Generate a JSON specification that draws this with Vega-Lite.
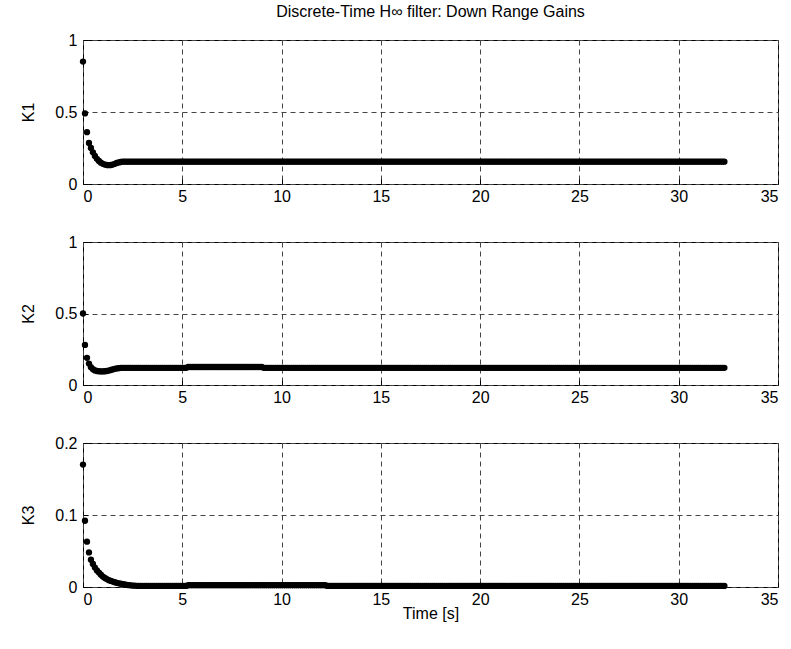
{
  "$schema": "https://vega.github.io/schema/vega-lite/v6.json",
  "padding": {"left": 20, "top": 3, "right": 5, "bottom": 5},
  "background": "white",
  "bounds": "flush",
  "spacing": 58,
  "config": {
    "view": {"stroke": "black", "strokeWidth": 1},
    "font": "Liberation Sans",
    "axis": {
      "labelFont": "Liberation Sans", "labelFontSize": 16, "labelColor": "black",
      "titleFont": "Liberation Sans", "titleFontSize": 16, "titleFontWeight": "normal", "titleColor": "black",
      "grid": true, "gridColor": "#444444", "gridDash": [5, 4], "gridOpacity": 1, "gridWidth": 1,
      "domain": false, "ticks": true, "tickColor": "black", "tickSize": -5, "labelPadding": 11
    },
    "axisY": {"titlePadding": 18},
    "axisX": {"titlePadding": -2, "labelPadding": 9}
  },
  "datasets": {
    "d": [
      {"t":0.0,"a":0.85,"b":0.5,"c":0.17},
      {"t":0.1,"a":0.49,"b":0.28,"c":0.092},
      {"t":0.2,"a":0.36,"b":0.19,"c":0.063},
      {"t":0.3,"a":0.285,"b":0.15,"c":0.048},
      {"t":0.4,"a":0.25,"b":0.125,"c":0.038},
      {"t":0.5,"a":0.22,"b":0.11,"c":0.032},
      {"t":0.6,"a":0.195,"b":0.102,"c":0.027},
      {"t":0.7,"a":0.175,"b":0.098,"c":0.023},
      {"t":0.8,"a":0.16,"b":0.096,"c":0.02},
      {"t":0.9,"a":0.148,"b":0.095,"c":0.017},
      {"t":1.0,"a":0.14,"b":0.095,"c":0.0145},
      {"t":1.1,"a":0.135,"b":0.096,"c":0.0125},
      {"t":1.2,"a":0.132,"b":0.098,"c":0.011},
      {"t":1.3,"a":0.131,"b":0.101,"c":0.0095},
      {"t":1.4,"a":0.132,"b":0.105,"c":0.0085},
      {"t":1.5,"a":0.135,"b":0.109,"c":0.0075},
      {"t":1.6,"a":0.14,"b":0.113,"c":0.0066},
      {"t":1.7,"a":0.146,"b":0.116,"c":0.0058},
      {"t":1.8,"a":0.15,"b":0.118,"c":0.0051},
      {"t":1.9,"a":0.153,"b":0.12,"c":0.0045},
      {"t":2.0,"a":0.155,"b":0.12,"c":0.004},
      {"t":2.1,"a":0.155,"b":0.12,"c":0.0035},
      {"t":2.2,"a":0.155,"b":0.12,"c":0.003},
      {"t":2.3,"a":0.155,"b":0.12,"c":0.0026},
      {"t":2.4,"a":0.155,"b":0.12,"c":0.0023},
      {"t":2.5,"a":0.155,"b":0.12,"c":0.002},
      {"t":2.6,"a":0.155,"b":0.12,"c":0.0018},
      {"t":2.7,"a":0.155,"b":0.12,"c":0.0016},
      {"t":2.8,"a":0.155,"b":0.12,"c":0.0015},
      {"t":2.9,"a":0.155,"b":0.12,"c":0.0015},
      {"t":3.0,"a":0.155,"b":0.12,"c":0.0015},
      {"t":3.1,"a":0.155,"b":0.12,"c":0.0015},
      {"t":3.2,"a":0.155,"b":0.12,"c":0.0015},
      {"t":3.3,"a":0.155,"b":0.12,"c":0.0015},
      {"t":3.4,"a":0.155,"b":0.12,"c":0.0015},
      {"t":3.5,"a":0.155,"b":0.12,"c":0.0015},
      {"t":3.6,"a":0.155,"b":0.12,"c":0.0015},
      {"t":3.7,"a":0.155,"b":0.12,"c":0.0015},
      {"t":3.8,"a":0.155,"b":0.12,"c":0.0015},
      {"t":3.9,"a":0.155,"b":0.12,"c":0.0015},
      {"t":4.0,"a":0.155,"b":0.12,"c":0.0015},
      {"t":4.1,"a":0.155,"b":0.12,"c":0.0015},
      {"t":4.2,"a":0.155,"b":0.12,"c":0.0015},
      {"t":4.3,"a":0.155,"b":0.12,"c":0.0015},
      {"t":4.4,"a":0.155,"b":0.12,"c":0.0015},
      {"t":4.5,"a":0.155,"b":0.12,"c":0.0015},
      {"t":4.6,"a":0.155,"b":0.12,"c":0.0015},
      {"t":4.7,"a":0.155,"b":0.12,"c":0.0015},
      {"t":4.8,"a":0.155,"b":0.12,"c":0.0015},
      {"t":4.9,"a":0.155,"b":0.12,"c":0.0015},
      {"t":5.0,"a":0.155,"b":0.12,"c":0.0015},
      {"t":5.1,"a":0.155,"b":0.12,"c":0.0015},
      {"t":5.2,"a":0.155,"b":0.12,"c":0.0015},
      {"t":5.3,"a":0.155,"b":0.126,"c":0.0025},
      {"t":5.4,"a":0.155,"b":0.126,"c":0.0025},
      {"t":5.5,"a":0.155,"b":0.126,"c":0.0025},
      {"t":5.6,"a":0.155,"b":0.126,"c":0.0025},
      {"t":5.7,"a":0.155,"b":0.126,"c":0.0025},
      {"t":5.8,"a":0.155,"b":0.126,"c":0.0025},
      {"t":5.9,"a":0.155,"b":0.126,"c":0.0025},
      {"t":6.0,"a":0.155,"b":0.126,"c":0.0025},
      {"t":6.1,"a":0.155,"b":0.126,"c":0.0025},
      {"t":6.2,"a":0.155,"b":0.126,"c":0.0025},
      {"t":6.3,"a":0.155,"b":0.126,"c":0.0025},
      {"t":6.4,"a":0.155,"b":0.126,"c":0.0025},
      {"t":6.5,"a":0.155,"b":0.126,"c":0.0025},
      {"t":6.6,"a":0.155,"b":0.126,"c":0.0025},
      {"t":6.7,"a":0.155,"b":0.126,"c":0.0025},
      {"t":6.8,"a":0.155,"b":0.126,"c":0.0025},
      {"t":6.9,"a":0.155,"b":0.126,"c":0.0025},
      {"t":7.0,"a":0.155,"b":0.126,"c":0.0025},
      {"t":7.1,"a":0.155,"b":0.126,"c":0.0025},
      {"t":7.2,"a":0.155,"b":0.126,"c":0.0025},
      {"t":7.3,"a":0.155,"b":0.126,"c":0.0025},
      {"t":7.4,"a":0.155,"b":0.126,"c":0.0025},
      {"t":7.5,"a":0.155,"b":0.126,"c":0.0025},
      {"t":7.6,"a":0.155,"b":0.126,"c":0.0025},
      {"t":7.7,"a":0.155,"b":0.126,"c":0.0025},
      {"t":7.8,"a":0.155,"b":0.126,"c":0.0025},
      {"t":7.9,"a":0.155,"b":0.126,"c":0.0025},
      {"t":8.0,"a":0.155,"b":0.126,"c":0.0025},
      {"t":8.1,"a":0.155,"b":0.126,"c":0.0025},
      {"t":8.2,"a":0.155,"b":0.126,"c":0.0025},
      {"t":8.3,"a":0.155,"b":0.126,"c":0.0025},
      {"t":8.4,"a":0.155,"b":0.126,"c":0.0025},
      {"t":8.5,"a":0.155,"b":0.126,"c":0.0025},
      {"t":8.6,"a":0.155,"b":0.126,"c":0.0025},
      {"t":8.7,"a":0.155,"b":0.126,"c":0.0025},
      {"t":8.8,"a":0.155,"b":0.126,"c":0.0025},
      {"t":8.9,"a":0.155,"b":0.126,"c":0.0025},
      {"t":9.0,"a":0.155,"b":0.126,"c":0.0025},
      {"t":9.1,"a":0.155,"b":0.12,"c":0.0025},
      {"t":9.2,"a":0.155,"b":0.12,"c":0.0025},
      {"t":9.3,"a":0.155,"b":0.12,"c":0.0025},
      {"t":9.4,"a":0.155,"b":0.12,"c":0.0025},
      {"t":9.5,"a":0.155,"b":0.12,"c":0.0025},
      {"t":9.6,"a":0.155,"b":0.12,"c":0.0025},
      {"t":9.7,"a":0.155,"b":0.12,"c":0.0025},
      {"t":9.8,"a":0.155,"b":0.12,"c":0.0025},
      {"t":9.9,"a":0.155,"b":0.12,"c":0.0025},
      {"t":10.0,"a":0.155,"b":0.12,"c":0.0025},
      {"t":10.1,"a":0.155,"b":0.12,"c":0.0025},
      {"t":10.2,"a":0.155,"b":0.12,"c":0.0025},
      {"t":10.3,"a":0.155,"b":0.12,"c":0.0025},
      {"t":10.4,"a":0.155,"b":0.12,"c":0.0025},
      {"t":10.5,"a":0.155,"b":0.12,"c":0.0025},
      {"t":10.6,"a":0.155,"b":0.12,"c":0.0025},
      {"t":10.7,"a":0.155,"b":0.12,"c":0.0025},
      {"t":10.8,"a":0.155,"b":0.12,"c":0.0025},
      {"t":10.9,"a":0.155,"b":0.12,"c":0.0025},
      {"t":11.0,"a":0.155,"b":0.12,"c":0.0025},
      {"t":11.1,"a":0.155,"b":0.12,"c":0.0025},
      {"t":11.2,"a":0.155,"b":0.12,"c":0.0025},
      {"t":11.3,"a":0.155,"b":0.12,"c":0.0025},
      {"t":11.4,"a":0.155,"b":0.12,"c":0.0025},
      {"t":11.5,"a":0.155,"b":0.12,"c":0.0025},
      {"t":11.6,"a":0.155,"b":0.12,"c":0.0025},
      {"t":11.7,"a":0.155,"b":0.12,"c":0.0025},
      {"t":11.8,"a":0.155,"b":0.12,"c":0.0025},
      {"t":11.9,"a":0.155,"b":0.12,"c":0.0025},
      {"t":12.0,"a":0.155,"b":0.12,"c":0.0025},
      {"t":12.1,"a":0.155,"b":0.12,"c":0.0025},
      {"t":12.2,"a":0.155,"b":0.12,"c":0.0025},
      {"t":12.3,"a":0.155,"b":0.12,"c":0.0015},
      {"t":12.4,"a":0.155,"b":0.12,"c":0.0015},
      {"t":12.5,"a":0.155,"b":0.12,"c":0.0015},
      {"t":12.6,"a":0.155,"b":0.12,"c":0.0015},
      {"t":12.7,"a":0.155,"b":0.12,"c":0.0015},
      {"t":12.8,"a":0.155,"b":0.12,"c":0.0015},
      {"t":12.9,"a":0.155,"b":0.12,"c":0.0015},
      {"t":13.0,"a":0.155,"b":0.12,"c":0.0015},
      {"t":13.1,"a":0.155,"b":0.12,"c":0.0015},
      {"t":13.2,"a":0.155,"b":0.12,"c":0.0015},
      {"t":13.3,"a":0.155,"b":0.12,"c":0.0015},
      {"t":13.4,"a":0.155,"b":0.12,"c":0.0015},
      {"t":13.5,"a":0.155,"b":0.12,"c":0.0015},
      {"t":13.6,"a":0.155,"b":0.12,"c":0.0015},
      {"t":13.7,"a":0.155,"b":0.12,"c":0.0015},
      {"t":13.8,"a":0.155,"b":0.12,"c":0.0015},
      {"t":13.9,"a":0.155,"b":0.12,"c":0.0015},
      {"t":14.0,"a":0.155,"b":0.12,"c":0.0015},
      {"t":14.1,"a":0.155,"b":0.12,"c":0.0015},
      {"t":14.2,"a":0.155,"b":0.12,"c":0.0015},
      {"t":14.3,"a":0.155,"b":0.12,"c":0.0015},
      {"t":14.4,"a":0.155,"b":0.12,"c":0.0015},
      {"t":14.5,"a":0.155,"b":0.12,"c":0.0015},
      {"t":14.6,"a":0.155,"b":0.12,"c":0.0015},
      {"t":14.7,"a":0.155,"b":0.12,"c":0.0015},
      {"t":14.8,"a":0.155,"b":0.12,"c":0.0015},
      {"t":14.9,"a":0.155,"b":0.12,"c":0.0015},
      {"t":15.0,"a":0.155,"b":0.12,"c":0.0015},
      {"t":15.1,"a":0.155,"b":0.12,"c":0.0015},
      {"t":15.2,"a":0.155,"b":0.12,"c":0.0015},
      {"t":15.3,"a":0.155,"b":0.12,"c":0.0015},
      {"t":15.4,"a":0.155,"b":0.12,"c":0.0015},
      {"t":15.5,"a":0.155,"b":0.12,"c":0.0015},
      {"t":15.6,"a":0.155,"b":0.12,"c":0.0015},
      {"t":15.7,"a":0.155,"b":0.12,"c":0.0015},
      {"t":15.8,"a":0.155,"b":0.12,"c":0.0015},
      {"t":15.9,"a":0.155,"b":0.12,"c":0.0015},
      {"t":16.0,"a":0.155,"b":0.12,"c":0.0015},
      {"t":16.1,"a":0.155,"b":0.12,"c":0.0015},
      {"t":16.2,"a":0.155,"b":0.12,"c":0.0015},
      {"t":16.3,"a":0.155,"b":0.12,"c":0.0015},
      {"t":16.4,"a":0.155,"b":0.12,"c":0.0015},
      {"t":16.5,"a":0.155,"b":0.12,"c":0.0015},
      {"t":16.6,"a":0.155,"b":0.12,"c":0.0015},
      {"t":16.7,"a":0.155,"b":0.12,"c":0.0015},
      {"t":16.8,"a":0.155,"b":0.12,"c":0.0015},
      {"t":16.9,"a":0.155,"b":0.12,"c":0.0015},
      {"t":17.0,"a":0.155,"b":0.12,"c":0.0015},
      {"t":17.1,"a":0.155,"b":0.12,"c":0.0015},
      {"t":17.2,"a":0.155,"b":0.12,"c":0.0015},
      {"t":17.3,"a":0.155,"b":0.12,"c":0.0015},
      {"t":17.4,"a":0.155,"b":0.12,"c":0.0015},
      {"t":17.5,"a":0.155,"b":0.12,"c":0.0015},
      {"t":17.6,"a":0.155,"b":0.12,"c":0.0015},
      {"t":17.7,"a":0.155,"b":0.12,"c":0.0015},
      {"t":17.8,"a":0.155,"b":0.12,"c":0.0015},
      {"t":17.9,"a":0.155,"b":0.12,"c":0.0015},
      {"t":18.0,"a":0.155,"b":0.12,"c":0.0015},
      {"t":18.1,"a":0.155,"b":0.12,"c":0.0015},
      {"t":18.2,"a":0.155,"b":0.12,"c":0.0015},
      {"t":18.3,"a":0.155,"b":0.12,"c":0.0015},
      {"t":18.4,"a":0.155,"b":0.12,"c":0.0015},
      {"t":18.5,"a":0.155,"b":0.12,"c":0.0015},
      {"t":18.6,"a":0.155,"b":0.12,"c":0.0015},
      {"t":18.7,"a":0.155,"b":0.12,"c":0.0015},
      {"t":18.8,"a":0.155,"b":0.12,"c":0.0015},
      {"t":18.9,"a":0.155,"b":0.12,"c":0.0015},
      {"t":19.0,"a":0.155,"b":0.12,"c":0.0015},
      {"t":19.1,"a":0.155,"b":0.12,"c":0.0015},
      {"t":19.2,"a":0.155,"b":0.12,"c":0.0015},
      {"t":19.3,"a":0.155,"b":0.12,"c":0.0015},
      {"t":19.4,"a":0.155,"b":0.12,"c":0.0015},
      {"t":19.5,"a":0.155,"b":0.12,"c":0.0015},
      {"t":19.6,"a":0.155,"b":0.12,"c":0.0015},
      {"t":19.7,"a":0.155,"b":0.12,"c":0.0015},
      {"t":19.8,"a":0.155,"b":0.12,"c":0.0015},
      {"t":19.9,"a":0.155,"b":0.12,"c":0.0015},
      {"t":20.0,"a":0.155,"b":0.12,"c":0.0015},
      {"t":20.1,"a":0.155,"b":0.12,"c":0.0015},
      {"t":20.2,"a":0.155,"b":0.12,"c":0.0015},
      {"t":20.3,"a":0.155,"b":0.12,"c":0.0015},
      {"t":20.4,"a":0.155,"b":0.12,"c":0.0015},
      {"t":20.5,"a":0.155,"b":0.12,"c":0.0015},
      {"t":20.6,"a":0.155,"b":0.12,"c":0.0015},
      {"t":20.7,"a":0.155,"b":0.12,"c":0.0015},
      {"t":20.8,"a":0.155,"b":0.12,"c":0.0015},
      {"t":20.9,"a":0.155,"b":0.12,"c":0.0015},
      {"t":21.0,"a":0.155,"b":0.12,"c":0.0015},
      {"t":21.1,"a":0.155,"b":0.12,"c":0.0015},
      {"t":21.2,"a":0.155,"b":0.12,"c":0.0015},
      {"t":21.3,"a":0.155,"b":0.12,"c":0.0015},
      {"t":21.4,"a":0.155,"b":0.12,"c":0.0015},
      {"t":21.5,"a":0.155,"b":0.12,"c":0.0015},
      {"t":21.6,"a":0.155,"b":0.12,"c":0.0015},
      {"t":21.7,"a":0.155,"b":0.12,"c":0.0015},
      {"t":21.8,"a":0.155,"b":0.12,"c":0.0015},
      {"t":21.9,"a":0.155,"b":0.12,"c":0.0015},
      {"t":22.0,"a":0.155,"b":0.12,"c":0.0015},
      {"t":22.1,"a":0.155,"b":0.12,"c":0.0015},
      {"t":22.2,"a":0.155,"b":0.12,"c":0.0015},
      {"t":22.3,"a":0.155,"b":0.12,"c":0.0015},
      {"t":22.4,"a":0.155,"b":0.12,"c":0.0015},
      {"t":22.5,"a":0.155,"b":0.12,"c":0.0015},
      {"t":22.6,"a":0.155,"b":0.12,"c":0.0015},
      {"t":22.7,"a":0.155,"b":0.12,"c":0.0015},
      {"t":22.8,"a":0.155,"b":0.12,"c":0.0015},
      {"t":22.9,"a":0.155,"b":0.12,"c":0.0015},
      {"t":23.0,"a":0.155,"b":0.12,"c":0.0015},
      {"t":23.1,"a":0.155,"b":0.12,"c":0.0015},
      {"t":23.2,"a":0.155,"b":0.12,"c":0.0015},
      {"t":23.3,"a":0.155,"b":0.12,"c":0.0015},
      {"t":23.4,"a":0.155,"b":0.12,"c":0.0015},
      {"t":23.5,"a":0.155,"b":0.12,"c":0.0015},
      {"t":23.6,"a":0.155,"b":0.12,"c":0.0015},
      {"t":23.7,"a":0.155,"b":0.12,"c":0.0015},
      {"t":23.8,"a":0.155,"b":0.12,"c":0.0015},
      {"t":23.9,"a":0.155,"b":0.12,"c":0.0015},
      {"t":24.0,"a":0.155,"b":0.12,"c":0.0015},
      {"t":24.1,"a":0.155,"b":0.12,"c":0.0015},
      {"t":24.2,"a":0.155,"b":0.12,"c":0.0015},
      {"t":24.3,"a":0.155,"b":0.12,"c":0.0015},
      {"t":24.4,"a":0.155,"b":0.12,"c":0.0015},
      {"t":24.5,"a":0.155,"b":0.12,"c":0.0015},
      {"t":24.6,"a":0.155,"b":0.12,"c":0.0015},
      {"t":24.7,"a":0.155,"b":0.12,"c":0.0015},
      {"t":24.8,"a":0.155,"b":0.12,"c":0.0015},
      {"t":24.9,"a":0.155,"b":0.12,"c":0.0015},
      {"t":25.0,"a":0.155,"b":0.12,"c":0.0015},
      {"t":25.1,"a":0.155,"b":0.12,"c":0.0015},
      {"t":25.2,"a":0.155,"b":0.12,"c":0.0015},
      {"t":25.3,"a":0.155,"b":0.12,"c":0.0015},
      {"t":25.4,"a":0.155,"b":0.12,"c":0.0015},
      {"t":25.5,"a":0.155,"b":0.12,"c":0.0015},
      {"t":25.6,"a":0.155,"b":0.12,"c":0.0015},
      {"t":25.7,"a":0.155,"b":0.12,"c":0.0015},
      {"t":25.8,"a":0.155,"b":0.12,"c":0.0015},
      {"t":25.9,"a":0.155,"b":0.12,"c":0.0015},
      {"t":26.0,"a":0.155,"b":0.12,"c":0.0015},
      {"t":26.1,"a":0.155,"b":0.12,"c":0.0015},
      {"t":26.2,"a":0.155,"b":0.12,"c":0.0015},
      {"t":26.3,"a":0.155,"b":0.12,"c":0.0015},
      {"t":26.4,"a":0.155,"b":0.12,"c":0.0015},
      {"t":26.5,"a":0.155,"b":0.12,"c":0.0015},
      {"t":26.6,"a":0.155,"b":0.12,"c":0.0015},
      {"t":26.7,"a":0.155,"b":0.12,"c":0.0015},
      {"t":26.8,"a":0.155,"b":0.12,"c":0.0015},
      {"t":26.9,"a":0.155,"b":0.12,"c":0.0015},
      {"t":27.0,"a":0.155,"b":0.12,"c":0.0015},
      {"t":27.1,"a":0.155,"b":0.12,"c":0.0015},
      {"t":27.2,"a":0.155,"b":0.12,"c":0.0015},
      {"t":27.3,"a":0.155,"b":0.12,"c":0.0015},
      {"t":27.4,"a":0.155,"b":0.12,"c":0.0015},
      {"t":27.5,"a":0.155,"b":0.12,"c":0.0015},
      {"t":27.6,"a":0.155,"b":0.12,"c":0.0015},
      {"t":27.7,"a":0.155,"b":0.12,"c":0.0015},
      {"t":27.8,"a":0.155,"b":0.12,"c":0.0015},
      {"t":27.9,"a":0.155,"b":0.12,"c":0.0015},
      {"t":28.0,"a":0.155,"b":0.12,"c":0.0015},
      {"t":28.1,"a":0.155,"b":0.12,"c":0.0015},
      {"t":28.2,"a":0.155,"b":0.12,"c":0.0015},
      {"t":28.3,"a":0.155,"b":0.12,"c":0.0015},
      {"t":28.4,"a":0.155,"b":0.12,"c":0.0015},
      {"t":28.5,"a":0.155,"b":0.12,"c":0.0015},
      {"t":28.6,"a":0.155,"b":0.12,"c":0.0015},
      {"t":28.7,"a":0.155,"b":0.12,"c":0.0015},
      {"t":28.8,"a":0.155,"b":0.12,"c":0.0015},
      {"t":28.9,"a":0.155,"b":0.12,"c":0.0015},
      {"t":29.0,"a":0.155,"b":0.12,"c":0.0015},
      {"t":29.1,"a":0.155,"b":0.12,"c":0.0015},
      {"t":29.2,"a":0.155,"b":0.12,"c":0.0015},
      {"t":29.3,"a":0.155,"b":0.12,"c":0.0015},
      {"t":29.4,"a":0.155,"b":0.12,"c":0.0015},
      {"t":29.5,"a":0.155,"b":0.12,"c":0.0015},
      {"t":29.6,"a":0.155,"b":0.12,"c":0.0015},
      {"t":29.7,"a":0.155,"b":0.12,"c":0.0015},
      {"t":29.8,"a":0.155,"b":0.12,"c":0.0015},
      {"t":29.9,"a":0.155,"b":0.12,"c":0.0015},
      {"t":30.0,"a":0.155,"b":0.12,"c":0.0015},
      {"t":30.1,"a":0.155,"b":0.12,"c":0.0015},
      {"t":30.2,"a":0.155,"b":0.12,"c":0.0015},
      {"t":30.3,"a":0.155,"b":0.12,"c":0.0015},
      {"t":30.4,"a":0.155,"b":0.12,"c":0.0015},
      {"t":30.5,"a":0.155,"b":0.12,"c":0.0015},
      {"t":30.6,"a":0.155,"b":0.12,"c":0.0015},
      {"t":30.7,"a":0.155,"b":0.12,"c":0.0015},
      {"t":30.8,"a":0.155,"b":0.12,"c":0.0015},
      {"t":30.9,"a":0.155,"b":0.12,"c":0.0015},
      {"t":31.0,"a":0.155,"b":0.12,"c":0.0015},
      {"t":31.1,"a":0.155,"b":0.12,"c":0.0015},
      {"t":31.2,"a":0.155,"b":0.12,"c":0.0015},
      {"t":31.3,"a":0.155,"b":0.12,"c":0.0015},
      {"t":31.4,"a":0.155,"b":0.12,"c":0.0015},
      {"t":31.5,"a":0.155,"b":0.12,"c":0.0015},
      {"t":31.6,"a":0.155,"b":0.12,"c":0.0015},
      {"t":31.7,"a":0.155,"b":0.12,"c":0.0015},
      {"t":31.8,"a":0.155,"b":0.12,"c":0.0015},
      {"t":31.9,"a":0.155,"b":0.12,"c":0.0015},
      {"t":32.0,"a":0.155,"b":0.12,"c":0.0015},
      {"t":32.1,"a":0.155,"b":0.12,"c":0.0015},
      {"t":32.2,"a":0.155,"b":0.12,"c":0.0015},
      {"t":32.3,"a":0.155,"b":0.12,"c":0.0015}
    ]
  },
  "vconcat": [
    {
      "data": {"name": "d"},
      "width": 695, "height": 144,
      "title": {"text": "Discrete-Time H∞ filter: Down Range Gains", "font": "Liberation Sans", "fontSize": 16, "fontWeight": "normal", "color": "black", "offset": 12},
      "mark": {"type": "circle", "size": 40, "color": "black", "opacity": 1},
      "encoding": {
        "x": {"field": "t", "type": "quantitative", "scale": {"domain": [0, 35], "nice": false}, "axis": {"values": [0, 5, 10, 15, 20, 25, 30, 35], "title": null}},
        "y": {"field": "a", "type": "quantitative", "scale": {"domain": [0, 1], "nice": false}, "axis": {"values": [0, 0.5, 1], "format": "~g", "title": "K1"}}
      }
    },
    {
      "data": {"name": "d"},
      "width": 695, "height": 143,
      "mark": {"type": "circle", "size": 40, "color": "black", "opacity": 1},
      "encoding": {
        "x": {"field": "t", "type": "quantitative", "scale": {"domain": [0, 35], "nice": false}, "axis": {"values": [0, 5, 10, 15, 20, 25, 30, 35], "title": null}},
        "y": {"field": "b", "type": "quantitative", "scale": {"domain": [0, 1], "nice": false}, "axis": {"values": [0, 0.5, 1], "format": "~g", "title": "K2"}}
      }
    },
    {
      "data": {"name": "d"},
      "width": 695, "height": 144,
      "mark": {"type": "circle", "size": 40, "color": "black", "opacity": 1},
      "encoding": {
        "x": {"field": "t", "type": "quantitative", "scale": {"domain": [0, 35], "nice": false}, "axis": {"values": [0, 5, 10, 15, 20, 25, 30, 35], "title": "Time [s]"}},
        "y": {"field": "c", "type": "quantitative", "scale": {"domain": [0, 0.2], "nice": false}, "axis": {"values": [0, 0.1, 0.2], "format": "~g", "title": "K3"}}
      }
    }
  ]
}
